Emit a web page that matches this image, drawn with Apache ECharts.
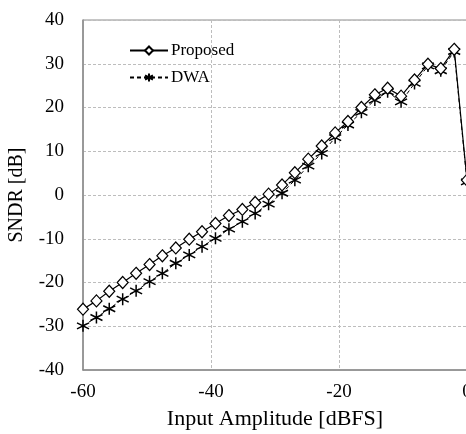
<!DOCTYPE html>
<html>
<head>
<meta charset="utf-8">
<script src="https://cdn.jsdelivr.net/npm/echarts@6/dist/echarts.min.js"></script>
<style>
  html, body { margin: 0; padding: 0; background: #fff; }
  #main { width: 466px; height: 434px; }
</style>
</head>
<body>
<div id="main"></div>
<script>
var inputAmp = [-60, -57.9, -55.9, -53.8, -51.7, -49.6, -47.6, -45.5, -43.4, -41.4,
  -39.3, -37.2, -35.1, -33.1, -31.0, -28.9, -26.9, -24.8, -22.7, -20.6,
  -18.6, -16.5, -14.4, -12.4, -10.3, -8.2, -6.1, -4.1, -2.0, 0];
var proposed = [-26.1, -24.2, -22.0, -20.0, -17.9, -15.9, -13.9, -12.1, -10.1, -8.4,
  -6.5, -4.7, -3.3, -1.7, 0.2, 2.3, 5.1, 8.2, 11.2, 14.2,
  16.8, 20.0, 22.9, 24.4, 22.6, 26.3, 29.9, 28.9, 33.3, 3.4];
var dwa = [-29.9, -28.0, -26.0, -23.8, -21.9, -19.8, -17.9, -15.6, -13.7, -11.8,
  -9.9, -7.8, -6.1, -4.2, -2.1, 0.4, 3.4, 6.6, 9.5, 13.1,
  16.0, 18.9, 21.7, 23.6, 21.3, 25.5, 29.5, 28.4, 32.8, 3.0];

var FONT = '"Liberation Serif", "DejaVu Serif", serif';
var STAR = 'path://M0,-10L0,10M-8.66,-5L8.66,5M-8.66,5L8.66,-5';

function pairs(xs, ys) {
  return xs.map(function (x, i) { return [x, ys[i]]; });
}

var chartDom = document.getElementById('main');
var myChart = echarts.init(chartDom);
var option;

option = {
  animation: false,
  textStyle: { fontFamily: FONT, color: '#000' },
  grid: {
    show: true,
    left: 83,
    top: 20,
    width: 384,
    height: 350,
    containLabel: false,
    outerBoundsMode: 'none',
    borderColor: '#8c8c8c',
    borderWidth: 1
  },
  legend: {
    orient: 'vertical',
    left: 124,
    top: 37,
    itemWidth: 38,
    itemHeight: 10,
    itemGap: 10,
    textStyle: { fontFamily: FONT, fontSize: 17, color: '#000', padding: [0, 0, 0, -2] },
    data: ['Proposed', 'DWA']
  },
  xAxis: {
    type: 'value',
    min: -60,
    max: 0,
    interval: 20,
    name: 'Input Amplitude [dBFS]',
    nameLocation: 'middle',
    nameGap: 38,
    nameTextStyle: { fontFamily: FONT, fontSize: 22, color: '#000' },
    axisLine: { onZero: false, lineStyle: { color: '#8c8c8c', width: 1.5 } },
    axisTick: { show: false },
    axisLabel: { fontFamily: FONT, fontSize: 19, color: '#000', margin: 13 },
    splitLine: { lineStyle: { color: '#bdbdbd', type: [3, 2] } }
  },
  yAxis: {
    type: 'value',
    min: -40,
    max: 40,
    interval: 10,
    name: 'SNDR [dB]',
    nameLocation: 'middle',
    nameGap: 56,
    nameTextStyle: { fontFamily: FONT, fontSize: 20, color: '#000' },
    axisLine: { show: true, onZero: false, lineStyle: { color: '#8c8c8c', width: 1.5 } },
    axisTick: { show: false },
    axisLabel: { fontFamily: FONT, fontSize: 19, color: '#000', margin: 19 },
    splitLine: { lineStyle: { color: '#bdbdbd', type: [3, 2] } }
  },
  series: [
    {
      name: 'DWA',
      type: 'line',
      data: pairs(inputAmp, dwa),
      symbol: STAR,
      symbolSize: 12,
      lineStyle: { color: '#000', width: 1, type: [4, 3] },
      itemStyle: { color: 'none', borderColor: '#000', borderWidth: 1.5 },
      z: 2
    },
    {
      name: 'Proposed',
      type: 'line',
      data: pairs(inputAmp, proposed),
      symbol: 'diamond',
      symbolSize: [11, 12],
      lineStyle: { color: '#000', width: 1.2 },
      itemStyle: { color: '#fff', borderColor: '#000', borderWidth: 1.2 },
      z: 3
    }
  ]
};

option && myChart.setOption(option);
</script>
</body>
</html>
